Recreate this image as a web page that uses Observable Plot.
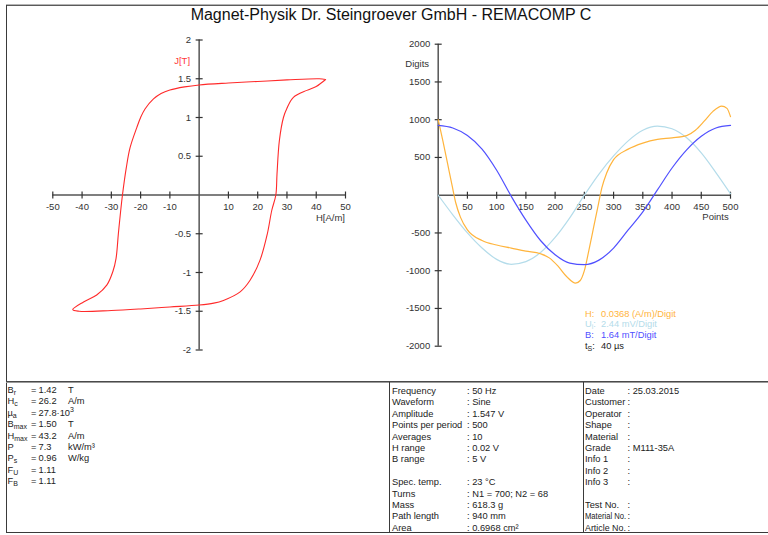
<!DOCTYPE html>
<html><head><meta charset="utf-8">
<script src="https://cdn.jsdelivr.net/npm/d3@7"></script>
<script src="https://cdn.jsdelivr.net/npm/@observablehq/plot@0.6"></script>
<style>
body{margin:0;background:#fff;}
#root{position:relative;width:768px;height:535px;overflow:hidden;font-family:"Liberation Sans",Arial,sans-serif;color:#222;background:#fff;}
.abs{position:absolute;white-space:nowrap;}
.t{font-size:9.3px;line-height:12px;}
.sb{font-size:7px;position:relative;top:2px;}
.sp{font-size:7px;position:relative;top:-4px;}
.ln{position:absolute;}
</style></head><body><div id="root"></div>
<script>
// ---------------- data ----------------
const titleText = "Magnet-Physik Dr. Steingroever GmbH - REMACOMP C";

// hysteresis loop J(H), traversed from positive tip along the upper branch
const loopH = [43.2, 41, 30, 20, 10, 0, -5, -10, -13, -15.6, -18.5, -20, -21.3, -23.6, -24.9, -26.2, -26.8, -27.6, -28.4, -29.5, -31.5, -35, -39.5, -43.2,
               -41, -30, -20, -10, 0, 5, 8.3, 14, 17.4, 20.8, 23.3, 24.8, 26.2, 26.6, 27.4, 28.8, 30, 32.2, 36.8, 40, 43.2];
const loopJ = [1.49, 1.50, 1.485, 1.465, 1.445, 1.42, 1.395, 1.355, 1.31, 1.24, 1.11, 1.0, 0.87, 0.61, 0.35, 0, -0.2, -0.5, -0.82, -0.99, -1.16, -1.29, -1.38, -1.48,
               -1.50, -1.49, -1.47, -1.445, -1.42, -1.395, -1.36, -1.25, -1.1, -0.84, -0.5, -0.2, 0, 0.27, 0.7, 1.0, 1.12, 1.26, 1.35, 1.40, 1.49];

// waveforms (digits vs points)
const pointsUB = [0, 25, 50, 75, 100, 125, 150, 175, 200, 225, 250, 275, 300, 325, 350, 375, 400, 425, 450, 475, 500];
const seriesU  = [0, -260, -500, -700, -850, -915, -880, -760, -560, -300, 0, 280, 520, 720, 860, 915, 880, 760, 560, 300, 20];
const seriesB  = [925, 890, 790, 610, 330, -15, -330, -600, -790, -900, -920, -860, -700, -460, -220, 70, 360, 600, 780, 890, 925];
const pointsH  = [0, 8, 16, 24, 30, 38, 50, 75, 100, 125, 150, 175, 190, 205, 220, 235, 243, 250, 258, 266, 274, 280, 288, 300, 325, 350, 375, 400, 425, 440, 455, 470, 485, 494, 500];
const seriesH  = [1000, 720, 420, 120, -100, -290, -460, -600, -660, -700, -740, -775, -830, -940, -1080, -1165, -1130, -1000, -720, -420, -120, 100, 290, 470, 610, 690, 740, 760, 790, 860, 980, 1110, 1180, 1150, 1040];

// axes ticks
const leftXTicks  = [-50, -40, -30, -20, -10, 10, 20, 30, 40, 50];
const leftYTicks  = [-2, -1.5, -1, -0.5, 0.5, 1, 1.5, 2];
const rightXTicks = [50, 100, 150, 200, 250, 300, 350, 400, 450, 500];
const rightYTicks = [-2000, -1500, -1000, -500, 500, 1000, 1500, 2000];

// legend
const legendLabels = [["H", ""], ["U", "i"], ["B", ""], ["t", "S"]];
const legendValues = ["0.0368 (A/m)/Digit", "2.44 mV/Digit", "1.64 mT/Digit", "40 µs"];

// parameter tables
const resultNames = [["B","r"],["H","c"],["µ","a"],["B","max"],["H","max"],["P",""],["P","s"],["F","U"],["F","B"]];
const resultValues = ["1.42", "26.2", "27.8·10<span class='sp'>3</span>", "1.50", "43.2", "7.3", "0.96", "1.11", "1.11"];
const resultUnits = ["T", "A/m", "", "T", "A/m", "kW/m³", "W/kg", "", ""];
const setupNames = ["Frequency","Waveform","Amplitude","Points per period","Averages","H range","B range","","Spec. temp.","Turns","Mass","Path length","Area"];
const setupValues = ["50 Hz","Sine","1.547 V","500","10","0.02 V","5 V","","23 °C","N1 = 700; N2 = 68","618.3 g","940 mm","0.6968 cm²"];
const infoNames = ["Date","Customer","Operator","Shape","Material","Grade","Info 1","Info 2","Info 3","","Test No.","Material No.","Article No."];
const infoValues = ["25.03.2015","","","","","M111-35A","","","","","","",""];

// ---------------- colours ----------------
const cLoop = "#ff2a2a", cH = "#ffb43c", cU = "#b4dcea", cB = "#5050ff", cAxis = "#555";

// ---------------- layout ----------------
const root = document.getElementById("root");
function el(html, x, y, cls, style) {
  const d = document.createElement("div");
  d.className = "abs " + (cls || "");
  d.style.left = x + "px"; d.style.top = y + "px";
  if (style) Object.assign(d.style, style);
  d.innerHTML = html;
  root.appendChild(d);
  return d;
}
function line(x, y, w, h, color) {
  const d = document.createElement("div");
  d.className = "ln";
  Object.assign(d.style, {left: x + "px", top: y + "px", width: w + "px", height: h + "px", background: color});
  root.appendChild(d);
}

// title
el(titleText, 0, 5, "", {width: "782px", textAlign: "center", fontSize: "16px", lineHeight: "20px", color: "#111"});

const hTick = {draw(ctx) { ctx.moveTo(-3.5, 0); ctx.lineTo(3.5, 0); }};
const vTick = {draw(ctx) { ctx.moveTo(0, -3.5); ctx.lineTo(0, 3.5); }};
const plotStyle = {fontFamily: "'Liberation Sans', Arial, sans-serif", fontSize: "9.5px", background: "transparent", overflow: "visible", color: "#333"};

// left chart: hysteresis loop
const loop = loopH.map((h, i) => ({H: h, J: loopJ[i]}));
const left = Plot.plot({
  width: 380, height: 380,
  marginLeft: 52.3, marginRight: 35, marginTop: 39.5, marginBottom: 30.5,
  x: {domain: [-50, 50], axis: null},
  y: {domain: [-2, 2], axis: null},
  style: plotStyle,
  marks: [
    Plot.ruleX([0], {stroke: cAxis, strokeWidth: 1.5}),
    Plot.ruleY([0], {stroke: cAxis, strokeWidth: 1.5}),
    Plot.dot(leftYTicks, {x: () => 0, y: d => d, symbol: hTick, stroke: "#333", fill: "none", strokeWidth: 1.2}),
    Plot.dot(leftXTicks, {x: d => d, y: () => 0, symbol: vTick, stroke: "#333", fill: "none", strokeWidth: 1.2}),
    Plot.text(leftYTicks, {x: () => 0, y: d => d, text: d => String(d), textAnchor: "end", dx: -8, fill: "#333"}),
    Plot.text(leftXTicks, {x: d => d, y: () => 0, text: d => String(d), dy: 12, fill: "#333"}),
    Plot.text(["J[T]"], {x: () => 0, y: () => 2, text: d => d, dx: -17, dy: 21, fill: "#ff3a3a"}),
    Plot.text(["H[A/m]"], {x: () => 50, y: () => 0, text: d => d, dx: -15, dy: 23, fill: "#333"}),
    Plot.line(loop, {x: "H", y: "J", stroke: cLoop, strokeWidth: 1.1, curve: "catmull-rom"})
  ]
});
left.style.position = "absolute"; left.style.left = "0px"; left.style.top = "0px";
root.appendChild(left);

// right chart: waveforms
const dU = pointsUB.map((p, i) => ({p, v: seriesU[i]}));
const dB = pointsUB.map((p, i) => ({p, v: seriesB[i]}));
const dH = pointsH.map((p, i) => ({p, v: seriesH[i]}));
const right = Plot.plot({
  width: 388, height: 380,
  marginLeft: 57.7, marginRight: 38, marginTop: 43.7, marginBottom: 34.3,
  x: {domain: [0, 500], axis: null},
  y: {domain: [-2000, 2000], axis: null},
  style: plotStyle,
  marks: [
    Plot.ruleX([0], {stroke: cAxis, strokeWidth: 1.5}),
    Plot.ruleY([0], {stroke: cAxis, strokeWidth: 1.5}),
    Plot.dot(rightYTicks, {x: () => 0, y: d => d, symbol: hTick, stroke: "#333", fill: "none", strokeWidth: 1.2}),
    Plot.dot(rightXTicks, {x: d => d, y: () => 0, symbol: vTick, stroke: "#333", fill: "none", strokeWidth: 1.2}),
    Plot.text(rightYTicks, {x: () => 0, y: d => d, text: d => String(d), textAnchor: "end", dx: -8, fill: "#333"}),
    Plot.text(rightXTicks, {x: d => d, y: () => 0, text: d => String(d), dy: 12, fill: "#333"}),
    Plot.text(["Digits"], {x: () => 0, y: () => 2000, text: d => d, dx: -21, dy: 20, fill: "#333"}),
    Plot.text(["Points"], {x: () => 500, y: () => 0, text: d => d, dx: -15, dy: 22, fill: "#333"}),
    Plot.line(dU, {x: "p", y: "v", stroke: cU, strokeWidth: 1.2, curve: "monotone-x"}),
    Plot.line(dH, {x: "p", y: "v", stroke: cH, strokeWidth: 1.2, curve: "monotone-x"}),
    Plot.line(dB, {x: "p", y: "v", stroke: cB, strokeWidth: 1.2, curve: "monotone-x"})
  ]
});
right.style.position = "absolute"; right.style.left = "380px"; right.style.top = "0px";
root.appendChild(right);

// legend of the waveform chart
const legendColors = [cH, cU, cB, "#222"];
legendLabels.forEach((l, i) => {
  const y = 307.5 + i * 10.8;
  const lab = l[0] + (l[1] ? "<span class='sb'>" + l[1] + "</span>" : "") + ":";
  el(lab, 585, y, "t", {color: legendColors[i], fontSize: "9.3px"});
  el(legendValues[i], 601, y, "t", {color: legendColors[i], fontSize: "9.3px"});
});

// frame lines
line(6, 4, 762, 1, "#b4b4b4");
line(6, 5, 762, 1, "#5a5a5a");
line(6, 5, 1, 528, "#3a3a3a");
line(6, 381, 762, 1, "#4a4a4a");
line(6, 382, 762, 1, "#9a9a9a");
line(6, 532, 762, 1, "#3a3a3a");
line(389, 382, 1, 150, "#3a3a3a");
line(583, 382, 1, 150, "#3a3a3a");

// tables
const rowY = i => 384 + i * 11.4;
function fitWidth(d, maxW) {
  const w = d.offsetWidth;
  if (w > maxW) { d.style.transformOrigin = "left center"; d.style.transform = "scaleX(" + (maxW / w) + ")"; }
}
resultNames.forEach((n, i) => {
  const y = rowY(i);
  el(n[0] + (n[1] ? "<span class='sb'>" + n[1] + "</span>" : ""), 7.5, y, "t");
  el("=", 31, y, "t");
  el(resultValues[i], 38.5, y, "t");
  if (resultUnits[i]) el(resultUnits[i], 68, y, "t");
});
setupNames.forEach((n, i) => {
  if (!n) return;
  const y = rowY(i) + 1;
  fitWidth(el(n, 392, y, "t"), 73);
  el(": " + setupValues[i], 467, y, "t");
});
infoNames.forEach((n, i) => {
  if (!n) return;
  const y = rowY(i) + 1;
  fitWidth(el(n, 585, y, "t"), 41);
  el(": " + infoValues[i], 627.5, y, "t");
});
</script>
</body></html>
